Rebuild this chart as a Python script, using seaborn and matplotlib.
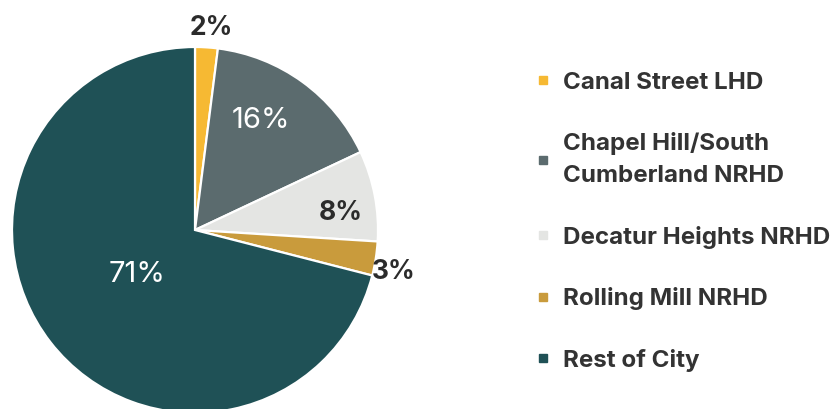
import numpy as np
import matplotlib.pyplot as plt
import seaborn as sns
from matplotlib.lines import Line2D

sns.set_theme(style="white")
plt.rcParams['font.family'] = ['Inter', 'DejaVu Sans']

# Share of listed properties by district
districts = ['Canal Street LHD', 'Chapel Hill/South\nCumberland NRHD',
             'Decatur Heights NRHD', 'Rolling Mill NRHD', 'Rest of City']
shares = [2, 16, 8, 3, 71]
colors = ['#F6B933', '#5B6B6E', '#E4E5E3', '#C99B3C', '#1F5156']
label_colors = ['#2b2b2b', 'white', '#2b2b2b', '#2b2b2b', 'white']
label_weights = ['bold', 'normal', 'bold', 'bold', 'normal']
label_sizes = [19, 21, 19, 19, 21]
label_radius = [1.11, 0.70, 0.80, 1.11, 0.40]
label_shift = [-1, 5, -4, -3, 0]

fig = plt.figure(figsize=(8.37, 4.09), dpi=100)
W, H = 837, 409
cx, cy, r = 195, 230, 183
ax = fig.add_axes([(cx - r) / W, (H - cy - r) / H, 2 * r / W, 2 * r / H])

wedges, _ = ax.pie(shares, colors=colors, startangle=90, counterclock=False,
                   wedgeprops=dict(edgecolor='white', linewidth=1.6))

for w, val, c, fw, fs, rr, sh in zip(wedges, shares, label_colors, label_weights,
                                     label_sizes, label_radius, label_shift):
    ang = np.deg2rad((w.theta1 + w.theta2) / 2 + sh)
    ax.text(rr * np.cos(ang), rr * np.sin(ang), f'{val}%', color=c,
            fontsize=fs, fontweight=fw, ha='center', va='center')
ax.set_xlim(-1, 1)
ax.set_ylim(-1, 1)

handles = [Line2D([0], [0], marker='s', linestyle='', markersize=6,
                  markerfacecolor=c, markeredgecolor=c) for c in colors]
leg = fig.legend(handles, districts, loc='upper left',
                 bbox_to_anchor=(526 / W, 1 - 62 / H), frameon=False,
                 prop=dict(size=17.4, weight='bold'), handlelength=0.6,
                 handletextpad=0.52, labelspacing=1.6, borderaxespad=0)
for t in leg.get_texts():
    t.set_color('#333333')
    t.set_linespacing(1.56)

fig.savefig('out.png', dpi=100)
